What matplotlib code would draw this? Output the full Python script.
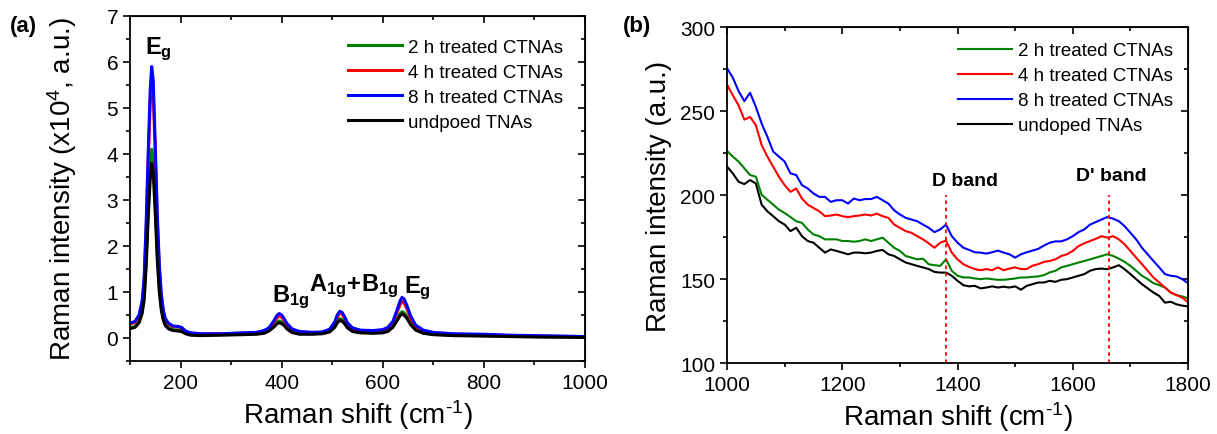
import matplotlib
matplotlib.use('Agg')
import matplotlib.pyplot as plt
from matplotlib.ticker import MultipleLocator

plt.rcParams['font.family'] = ['Liberation Sans', 'DejaVu Sans']
plt.rcParams['mathtext.fontset'] = 'custom'
plt.rcParams['mathtext.rm'] = 'Liberation Sans'
plt.rcParams['mathtext.it'] = 'Liberation Sans'
plt.rcParams['mathtext.bf'] = 'Liberation Sans:bold'

labels_a = ['2 h treated CTNAs', '4 h treated CTNAs', '8 h treated CTNAs', 'undpoed TNAs']
labels_b = ['2 h treated CTNAs', '4 h treated CTNAs', '8 h treated CTNAs', 'undoped TNAs']
colors = ['#008000', '#ff0000', '#0000ff', '#000000']

# ---- panel (a): full spectrum, intensity in 1e4 a.u.
shift_a = [100, 110, 118, 124, 128, 132, 136, 140, 143, 146, 150, 154, 158, 162, 166, 170, 176, 185, 195, 202,
           210, 220, 240, 280, 320, 350, 365, 375, 385, 390, 395, 400, 405, 410, 420, 435, 460, 480, 495, 505,
           510, 515, 520, 525, 530, 540, 555, 580, 600, 610, 620, 628, 634, 638, 642, 648, 655, 665, 680, 700,
           740, 800, 850, 900, 1000]
h8_a = [0.32, 0.36, 0.5, 0.8, 1.3, 2.5, 4.0, 5.4, 5.9, 5.6, 4.2, 2.7, 1.6, 0.95, 0.6, 0.42, 0.32, 0.26, 0.25, 0.23,
        0.15, 0.11, 0.09, 0.09, 0.11, 0.12, 0.16, 0.22, 0.38, 0.48, 0.53, 0.5, 0.42, 0.32, 0.2, 0.14, 0.12, 0.13, 0.19, 0.35,
        0.5, 0.58, 0.55, 0.45, 0.33, 0.22, 0.17, 0.16, 0.18, 0.23, 0.36, 0.6, 0.8, 0.88, 0.85, 0.7, 0.48, 0.28, 0.17, 0.12,
        0.09, 0.08, 0.06, 0.05, 0.03]
h4_a = [0.3, 0.34, 0.47, 0.75, 1.2, 2.35, 3.8, 5.1, 5.6, 5.3, 4.0, 2.55, 1.5, 0.9, 0.57, 0.4, 0.3, 0.25, 0.24, 0.22,
        0.14, 0.1, 0.09, 0.09, 0.1, 0.12, 0.15, 0.2, 0.34, 0.43, 0.48, 0.45, 0.38, 0.29, 0.18, 0.13, 0.12, 0.12, 0.18, 0.32,
        0.46, 0.54, 0.51, 0.42, 0.31, 0.2, 0.16, 0.15, 0.17, 0.21, 0.33, 0.55, 0.72, 0.79, 0.76, 0.63, 0.43, 0.25, 0.15, 0.11,
        0.08, 0.07, 0.05, 0.04, 0.03]
h2_a = [0.22, 0.25, 0.36, 0.58, 0.9, 1.7, 2.8, 3.75, 4.1, 3.9, 2.95, 1.85, 1.1, 0.65, 0.42, 0.3, 0.22, 0.18, 0.17, 0.16,
        0.1, 0.07, 0.06, 0.07, 0.08, 0.09, 0.12, 0.17, 0.27, 0.34, 0.37, 0.35, 0.3, 0.23, 0.14, 0.1, 0.09, 0.1, 0.14, 0.25,
        0.36, 0.42, 0.4, 0.33, 0.25, 0.16, 0.12, 0.12, 0.13, 0.16, 0.25, 0.4, 0.52, 0.57, 0.55, 0.46, 0.32, 0.19, 0.12, 0.08,
        0.06, 0.05, 0.04, 0.03, 0.02]
undoped_a = [0.2, 0.23, 0.33, 0.53, 0.82, 1.55, 2.6, 3.45, 3.8, 3.6, 2.7, 1.7, 1.0, 0.6, 0.38, 0.27, 0.2, 0.16, 0.15, 0.14,
             0.09, 0.06, 0.05, 0.06, 0.07, 0.08, 0.1, 0.15, 0.24, 0.3, 0.33, 0.31, 0.27, 0.2, 0.12, 0.08, 0.08, 0.09, 0.13, 0.23,
             0.33, 0.38, 0.36, 0.3, 0.22, 0.14, 0.11, 0.1, 0.11, 0.14, 0.23, 0.37, 0.48, 0.52, 0.5, 0.42, 0.29, 0.17, 0.1, 0.07,
             0.05, 0.04, 0.03, 0.02, 0.01]

# ---- panel (b): 1000-1800 cm-1 region
shift_b = list(range(1000, 1801, 10))
h8_b = [275.6, 270, 262, 256, 261, 252.6, 242.7, 234.8, 226, 223, 220, 213, 212, 206, 204, 201, 199, 199, 196, 197,
        197, 195, 198, 197, 197.7, 197.7, 199, 197, 195, 191, 188.5, 186.5, 185.5, 184.5, 182.5, 180.6, 178, 179.6, 182.5, 175.6,
        171.7, 168.7, 167.4, 166, 165.8, 165.2, 166, 167, 165.8, 164.8, 162.8, 164.8, 166, 167, 168, 170, 171.7, 172.5, 172.5, 173.7,
        175.6, 178, 179.6, 182.5, 184, 185.5, 187, 186, 184.5, 181.5, 177.6, 173.7, 168.7, 164.8, 160.8, 157, 153, 152, 151.6, 150,
        147.6]
h4_b = [265.8, 259.5, 253.5, 245, 246.6, 241.7, 229.9, 223, 217, 211, 206, 202, 204, 198, 194.4, 192.4, 190.4, 187.5, 187.9, 188.5,
        187.5, 186.9, 187.5, 187.9, 188.5, 187.9, 189, 187.5, 186.5, 182.5, 180.6, 178.6, 177.6, 175.6, 173.7, 171.3, 168.7, 171.7, 173, 165.8,
        161.8, 158.9, 157.3, 156, 155.3, 156, 155.3, 157, 155.3, 156.3, 157, 156, 156, 158, 158.9, 160.3, 160.8, 161.8, 163.8, 164.8,
        166.8, 169.7, 171.3, 172.7, 174, 175.6, 174.7, 175.6, 173.7, 170.7, 166.8, 162.8, 158.9, 155, 151, 148, 145, 142, 140.5, 139,
        136.2]
h2_b = [226.3, 223, 220, 216, 212, 211, 200.3, 197.3, 194.4, 191.4, 189.4, 187, 184.5, 183.5, 179.6, 176.6, 175.6, 173.7, 173.7, 173.7,
        172.7, 172.7, 172.3, 172.7, 173.7, 172.7, 173.7, 174.7, 171.7, 168.7, 166.8, 163.8, 162.8, 161.8, 162.2, 158.9, 158.3, 157.9, 161.8, 155,
        152, 151, 151, 150.4, 150, 150.4, 150, 149.6, 149.6, 150, 150.4, 151, 151, 151.4, 151.6, 152.4, 154, 155, 157, 157.9,
        158.9, 159.9, 160.8, 161.8, 162.8, 163.8, 164.8, 163.8, 162.2, 160.3, 157.9, 155, 152, 150, 147.6, 146.4, 145, 142, 140.5, 139.7,
        138.6]
undoped_b = [217, 213, 208, 206.6, 209, 207, 194.4, 190.4, 187.5, 184.5, 182.5, 178.6, 180.6, 175.6, 172.7, 171.7, 168.7, 165.8, 167.7, 166.8,
             165.8, 164.8, 165.8, 165.8, 165.4, 165.8, 166.8, 167.4, 164.8, 163.8, 161.8, 159.9, 158.9, 157.9, 157, 156, 154.3, 153.9, 153.9, 152,
             149, 146.4, 145.7, 146, 144.5, 145, 145.7, 145, 145.5, 145, 145.7, 143.7, 146, 147, 148, 148, 149, 148.4, 149.6, 150,
             151, 152, 153, 155, 156, 156.3, 155.9, 157, 158.3, 155.9, 153, 150, 147, 144.5, 142, 140, 136, 136.5, 135, 134.2,
             133.8]

d_bands = [1380, 1663]

fig = plt.figure(figsize=(12.17, 4.35), dpi=100)
ax1 = fig.add_axes([0.1068, 0.168, 0.3739, 0.793])
ax2 = fig.add_axes([0.5974, 0.163, 0.3788, 0.772])


def style_axes(ax, xmaj, xmin, ymaj, ymin):
    ax.xaxis.set_major_locator(MultipleLocator(xmaj))
    ax.xaxis.set_minor_locator(MultipleLocator(xmin))
    ax.yaxis.set_major_locator(MultipleLocator(ymaj))
    ax.yaxis.set_minor_locator(MultipleLocator(ymin))
    ax.tick_params(which='major', direction='out', length=5, width=1.2, labelsize=15)
    ax.tick_params(which='minor', direction='out', length=3, width=1.2)
    for s in ax.spines.values():
        s.set_linewidth(1.3)
    # mirrored inward ticks on top/right
    top = ax.secondary_xaxis('top')
    top.xaxis.set_major_locator(MultipleLocator(xmaj))
    top.xaxis.set_minor_locator(MultipleLocator(xmin))
    top.tick_params(which='major', direction='in', length=5, width=1.2, labeltop=False)
    top.tick_params(which='minor', direction='in', length=3, width=1.2)
    right = ax.secondary_yaxis('right')
    right.yaxis.set_major_locator(MultipleLocator(ymaj))
    right.yaxis.set_minor_locator(MultipleLocator(ymin))
    right.tick_params(which='major', direction='in', length=5, width=1.2, labelright=False)
    right.tick_params(which='minor', direction='in', length=3, width=1.2)


xlab = r'Raman shift (cm$^{\text{-}1}$)'

# panel (a)
for ys, c, lab in zip([h2_a, h4_a, h8_a, undoped_a], colors, labels_a):
    ax1.plot(shift_a, ys, color=c, lw=2.2, label=lab)
ax1.set_xlim(100, 1000)
ax1.set_ylim(-0.5, 7)
style_axes(ax1, 200, 100, 1, 0.5)
ax1.set_xlabel(xlab, fontsize=20, labelpad=4)
ax1.set_ylabel('Raman intensity (x10$^{4}$, a.u.)', fontsize=20, labelpad=20)
ax1.legend(loc='upper right', fontsize=13.5, frameon=False, handlelength=2.9, handletextpad=0.3,
           labelspacing=0.42, borderaxespad=0.8)
ax1.text(130, 6.3, r'$\mathbf{E_g}$', fontsize=17, ha='left', va='center')
ax1.text(381, 0.9, r'$\mathbf{B_{1g}}$', fontsize=17, ha='left', va='center')
ax1.text(454, 1.15, r'$\mathbf{A_{1g}\!+\!B_{1g}}$', fontsize=17, ha='left', va='center')
ax1.text(642, 1.1, r'$\mathbf{E_g}$', fontsize=17, ha='left', va='center')

# panel (b)
for ys, c, lab in zip([h2_b, h4_b, h8_b, undoped_b], colors, labels_b):
    ax2.plot(shift_b, ys, color=c, lw=1.5, label=lab)
for xd in d_bands:
    ax2.plot([xd, xd], [100, 200], color='#ff0000', lw=1.3, ls=(0, (2, 2)))
ax2.set_xlim(1000, 1800)
ax2.set_ylim(100, 300)
style_axes(ax2, 200, 100, 50, 25)
ax2.set_xlabel(xlab, fontsize=20, labelpad=4)
ax2.set_ylabel('Raman intensity (a.u.)', fontsize=20, labelpad=6)
ax2.legend(loc='upper right', fontsize=13.5, frameon=False, handlelength=2.9, handletextpad=0.3,
           labelspacing=0.42, borderaxespad=0.4)
ax2.text(1413, 209, 'D band', fontsize=14, fontweight='bold', ha='center', va='center')
ax2.text(1667, 211.5, "D' band", fontsize=14, fontweight='bold', ha='center', va='center')

fig.text(0.008, 0.938, '(a)', fontsize=16, fontweight='bold', va='center')
fig.text(0.512, 0.938, '(b)', fontsize=16, fontweight='bold', va='center')

fig.savefig('out.png', dpi=100)
